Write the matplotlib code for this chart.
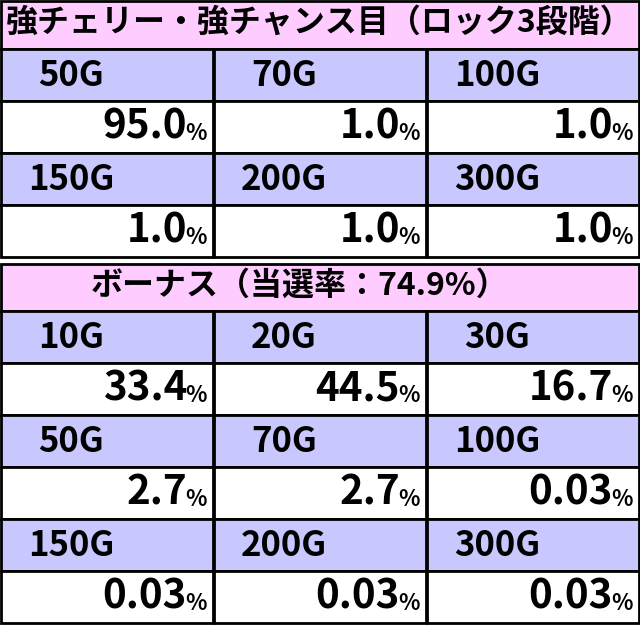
import matplotlib
matplotlib.use('Agg')
import matplotlib.pyplot as plt
from matplotlib.patches import Rectangle

plt.rcParams['font.family'] = ['Noto Sans CJK JP', 'DejaVu Sans']

# Table data
title1 = '強チェリー・強チャンス目（ロック3段階）'
games1 = ['50G', '70G', '100G', '150G', '200G', '300G']
rates1 = ['95.0', '1.0', '1.0', '1.0', '1.0', '1.0']

title2 = 'ボーナス（当選率：74.9%）'
games2 = ['10G', '20G', '30G', '50G', '70G', '100G', '150G', '200G', '300G']
rates2 = ['33.4', '44.5', '16.7', '2.7', '2.7', '0.03', '0.03', '0.03', '0.03']

PINK = '#FFCCFF'
LAV = '#C8C8FF'
W, H = 640, 625
COLS = [0, 213, 426, 639]

fig = plt.figure(figsize=(6.4, 6.25), dpi=100)
ax = fig.add_axes([0, 0, 1, 1])
ax.set_xlim(0, W)
ax.set_ylim(H, 0)
ax.axis('off')


def cell(x0, y0, w, h, color):
    ax.add_patch(Rectangle((x0, y0), w, h, facecolor=color, edgecolor='black', lw=2))


def draw_table(top, title, games, rates, title_h, row_h, centered):
    cell(1, top, W - 2, title_h, PINK)
    if centered:
        ax.text(W / 2 - 20, top + title_h / 2 - 2, title, fontsize=23, fontweight='bold',
                ha='center', va='center')
    else:
        ax.text(6, top + title_h / 2 - 2, title, fontsize=23, fontweight='bold',
                ha='left', va='center')
    y = top + title_h
    for r in range(0, len(games), 3):
        for c in range(3):
            x0, x1 = COLS[c] + 1, COLS[c + 1]
            cell(x0, y, x1 - x0, row_h, LAV)
            ax.text((x0 + x1) / 2 - 36, y + row_h / 2, games[r + c], fontsize=25,
                    fontweight='bold', ha='center', va='center')
            cell(x0, y + row_h, x1 - x0, row_h, 'white')
            ax.text(x1 - 26, y + row_h * 1.5, rates[r + c], fontsize=29,
                    fontweight='bold', ha='right', va='center')
            ax.text(x1 - 6, y + row_h * 1.5 + 6, '%', fontsize=16,
                    fontweight='bold', ha='right', va='center')
        y += 2 * row_h


draw_table(1, title1, games1, rates1, 48, 52, False)
draw_table(264, title2, games2, rates2, 47, 52, True)

fig.savefig('out.png', dpi=100, facecolor='white')
